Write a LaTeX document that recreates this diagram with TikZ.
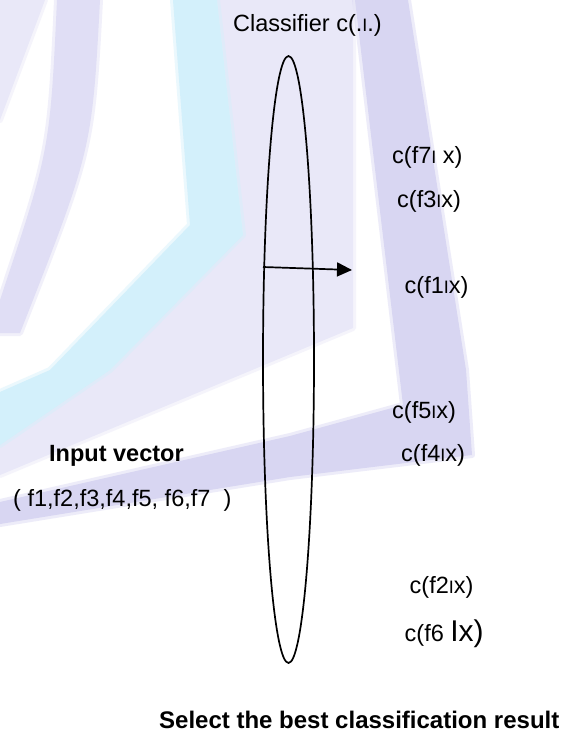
\documentclass[tikz,border=0pt]{standalone}
\usepackage{fontspec}
\setmainfont{Liberation Sans}
\usetikzlibrary{shapes.geometric,arrows.meta}
\definecolor{lavA}{HTML}{D8D6F2}
\definecolor{lavB}{HTML}{E9E8F8}
\definecolor{cyanA}{HTML}{D3F0FB}
\newcommand{\smallbar}{{\fontsize{18}{18}\selectfont I}}
\begin{document}
\begin{tikzpicture}[x=1pt,y=-1pt,
  lbl/.style={anchor=base west, inner sep=0pt, font=\fontsize{23.5}{28}\selectfont},
  boldlbl/.style={lbl, font=\fontsize{23.5}{28}\selectfont\bfseries},
  classifier/.style={draw, ellipse, line width=1.7pt, minimum width=51pt, minimum height=607pt, inner sep=0pt},
  conn/.style={line width=1.7pt, -{Triangle[length=15pt,width=14pt]}},
  wm/.style={line width=6pt, line join=round, draw opacity=0.45}]
\useasboundingbox (0,0) rectangle (573,733);
\fill[white] (0,0) rectangle (573,733);
% watermark
\filldraw[lavB, wm] (0,0) -- (45,0) -- (0,120) -- cycle;
\filldraw[lavA!80!white, wm] (57,0) -- (100,0) .. controls (92,150) .. (20,333) -- (0,333) -- (0,300) .. controls (50,150) .. (57,0) -- cycle;
\filldraw[lavB, wm] (217,0) -- (353,0) -- (353,328) -- (0,475) -- (0,432) -- (243,235) -- cycle;
\filldraw[cyanA, wm] (173,0) -- (217,0) -- (243,235) -- (110,370) -- (0,445) -- (0,392) -- (50,370) -- (190,225) -- cycle;
\filldraw[lavA, wm] (355,0) -- (408,0) -- (466,370) -- (472,455) -- (290,477) -- (0,524) -- (0,502) -- (290,436) -- (403,405) -- cycle;
% diagram
\node[classifier] (clf) at (288.5,359.5) {};
\coordinate (ain) at (263,267);
\coordinate (aout) at (352,270);
\draw[conn] (ain) -- (aout);
\node[lbl] (cls) at (233,32) {Classifier c(.\smallbar.)};
\node[lbl] (f7) at (392,163) {c(f7\smallbar{} x)};
\node[lbl] (f3) at (397,207.5) {c(f3\smallbar x)};
\node[lbl] (f1) at (404.5,293) {c(f1\smallbar x)};
\node[lbl] (f5) at (392,418) {c(f5\smallbar x)};
\node[lbl] (f4) at (401,461) {c(f4\smallbar x)};
\node[boldlbl] (inp) at (49,461) {Input vector};
\node[lbl] (vec) at (13,506) {( f1,f2,f3,f4,f5, f6,f7\ \ )};
\node[lbl] (f2) at (409.5,593) {c(f2\smallbar x)};
\node[lbl] (f6) at (404.5,641) {c(f6 {\fontsize{30}{30}\selectfont Ix)}};
\node[boldlbl, font=\fontsize{24}{28}\selectfont\bfseries] (sel) at (159,728.5) {Select the best classification result};
\end{tikzpicture}
\end{document}
